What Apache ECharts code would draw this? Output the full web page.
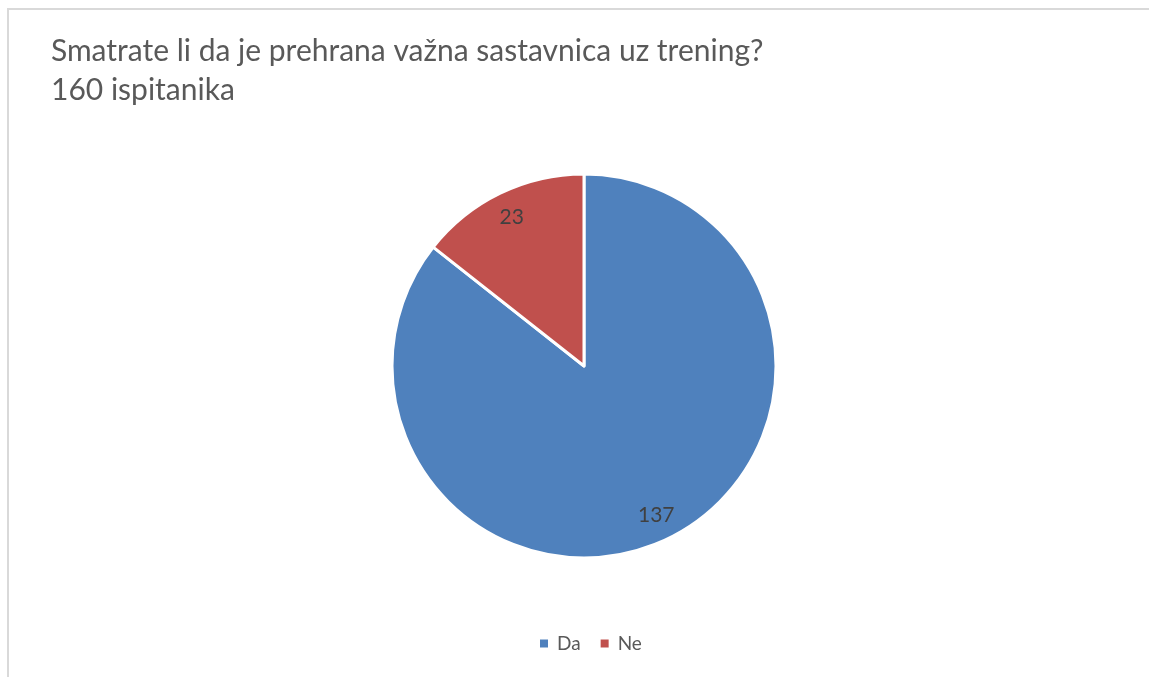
<!DOCTYPE html>
<html>
<head>
<meta charset="utf-8">
<script src="https://cdn.jsdelivr.net/npm/echarts@6/dist/echarts.min.js"></script>
<style>html,body{margin:0;padding:0;background:#fff}#c{width:1149px;height:677px}</style>
</head>
<body>
<div id="c"></div>
<script>
const categories = ['Da', 'Ne'];
const values = [137, 23];
const colors = ['#4F81BD', '#C0504D'];
const titleLines = ['Smatrate li da je prehrana važna sastavnica uz trening?', '160 ispitanika'];

const data = categories.map((c, i) => ({ name: c, value: values[i], itemStyle: { color: colors[i] } }));

const chart = echarts.init(document.getElementById('c'));
chart.setOption({
  animation: false,
  backgroundColor: '#fff',
  graphic: [{
    type: 'rect', silent: true,
    shape: { x: 8, y: 9, width: 1200, height: 720 },
    style: { fill: 'none', stroke: '#d9d9d9', lineWidth: 2 }
  }],
  title: {
    text: titleLines.join('\n'),
    left: 46, top: 27,
    textStyle: { fontFamily: 'Lato', fontSize: 30, fontWeight: 'normal', color: '#595959', lineHeight: 39 }
  },
  legend: {
    data: categories,
    bottom: 19, left: 533,
    icon: 'rect', itemWidth: 10, itemHeight: 10, itemGap: 18,
    textStyle: { fontFamily: 'Lato', fontSize: 19, color: '#595959', padding: [0, 0, 0, 3] }
  },
  series: [{
    type: 'pie',
    center: [584, 366], radius: [0, 192],
    startAngle: 90, clockwise: true,
    label: { show: false }, labelLine: { show: false },
    itemStyle: { borderColor: '#fff', borderWidth: 3 },
    emphasis: { disabled: true },
    data: data
  }, {
    type: 'pie', silent: true,
    center: [584, 366], radius: [135, 190],
    startAngle: 90, clockwise: true,
    itemStyle: { color: 'transparent', borderWidth: 0 },
    label: { show: true, position: 'inside', formatter: '{c}', fontFamily: 'Lato', fontSize: 21, color: '#404040' },
    labelLine: { show: false },
    emphasis: { disabled: true },
    data: categories.map((c, i) => ({ name: c, value: values[i], itemStyle: { color: 'transparent' } }))
  }]
});
</script>
</body>
</html>
